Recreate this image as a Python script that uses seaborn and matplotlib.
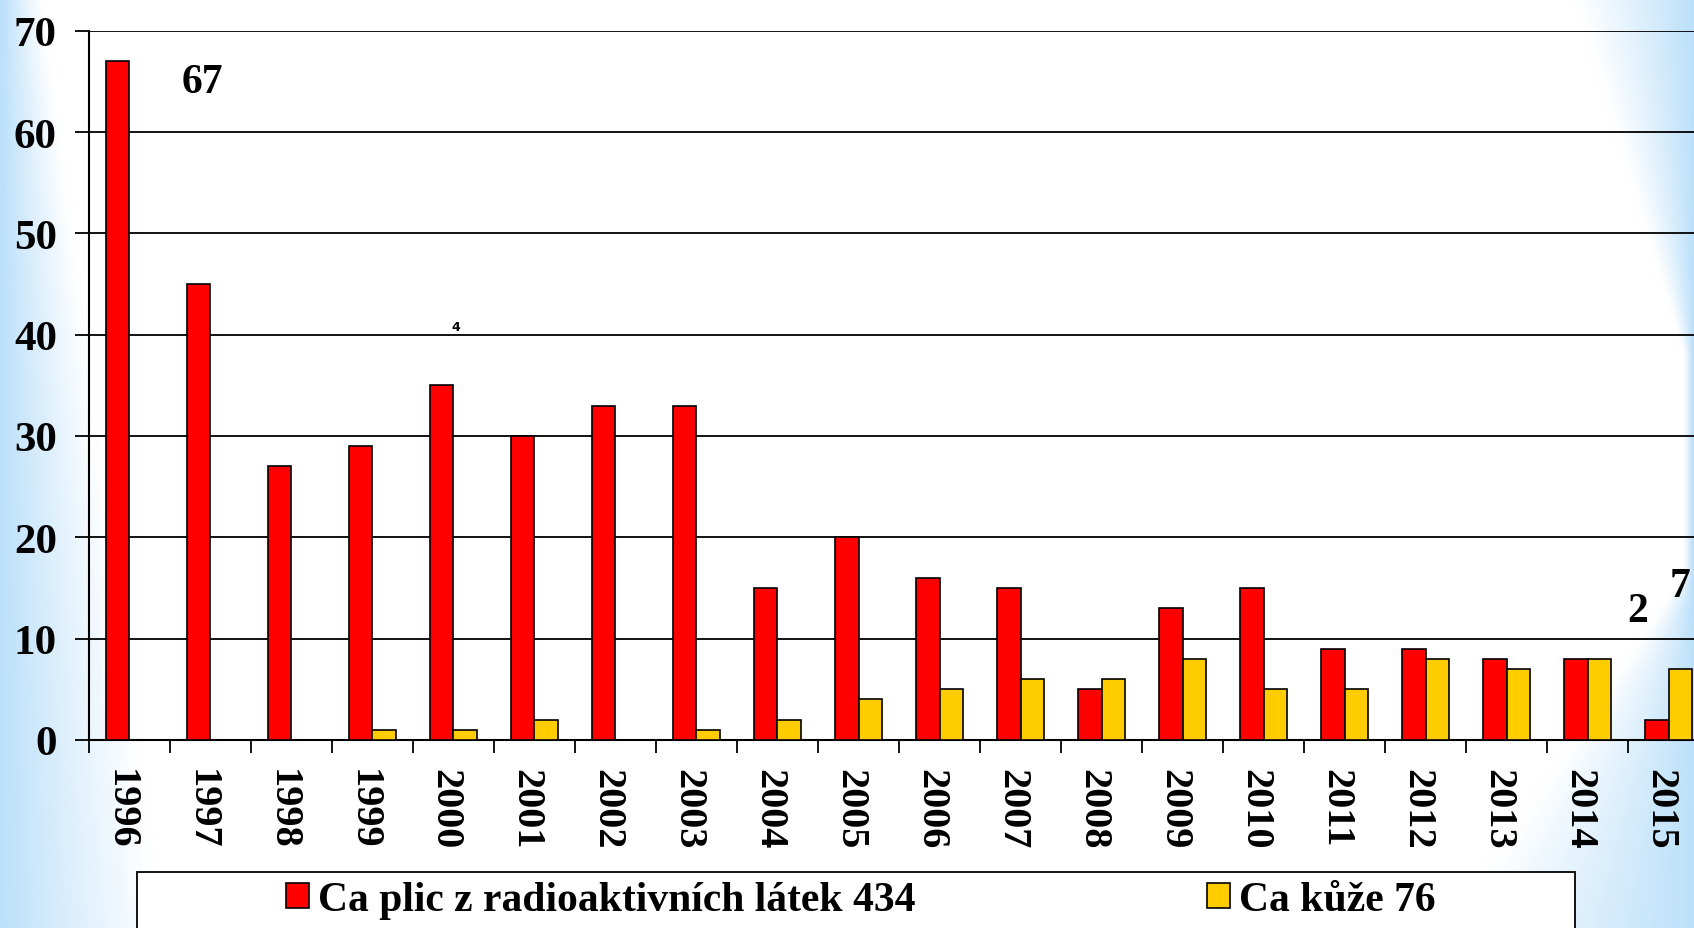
import numpy as np
import pandas as pd
import seaborn as sns
import matplotlib.pyplot as plt
import matplotlib.transforms as mtransforms
from matplotlib.patches import Patch, Rectangle

sns.set_style('white')
plt.rcParams['font.family'] = ['Liberation Serif', 'DejaVu Serif']
plt.rcParams['font.weight'] = 'bold'
plt.rcParams['text.color'] = 'black'
plt.rcParams['xtick.color'] = 'black'
plt.rcParams['ytick.color'] = 'black'

# data
years = [str(y) for y in range(1996, 2016)]
plice = [67, 45, 27, 29, 35, 30, 33, 33, 15, 20, 16, 15, 5, 13, 15, 9, 9, 8, 8, 2]
kuze = [0, 0, 0, 1, 1, 2, 0, 1, 2, 4, 5, 6, 6, 8, 5, 5, 8, 7, 8, 7]
lab_plice = 'Ca plic z radioaktivních látek 434'
lab_kuze = 'Ca kůže 76'

df = pd.DataFrame({'rok': years * 2,
                   'pocet': plice + kuze,
                   'dg': [lab_plice] * len(years) + [lab_kuze] * len(years)})
colors = {lab_plice: '#FF0000', lab_kuze: '#FFCC00'}

fig = plt.figure(figsize=(16.94, 9.29), dpi=100)

# light blue slide background on the edges
H, W = 186, 339
yy, xx = np.mgrid[0:H, 0:W]
yf = yy / (H - 1)
xpx = xx * 1694 / (W - 1)
rpx = 1694 - xpx
wl = 40 + 120 * yf
a_l = np.clip(1 - xpx / wl, 0, 1) ** 1.1
wr = 8 + 110 * np.clip(1 - yf / 0.38, 0, 1) + 240 * np.clip(yf - 0.62, 0, 1) / 0.38
a_r = np.clip(1 - rpx / wr, 0, 1) ** 1.1
a = np.clip(a_l + a_r, 0, 1)
c = np.array([0.74, 0.88, 0.98])
img = 1 - a[..., None] * (1 - c)
ax_bg = fig.add_axes([0, 0, 1, 1], zorder=-5)
ax_bg.imshow(img, extent=[0, 1, 0, 1], aspect='auto', interpolation='bilinear')
ax_bg.axis('off')

ax = fig.add_axes([0.0525, 0.2024, 0.9564, 0.7635])
ax.set_facecolor('none')
sns.barplot(data=df, x='rok', y='pocet', hue='dg', palette=colors, width=0.57, gap=0,
            saturation=1, edgecolor='black', linewidth=1.2, legend=False, ax=ax, zorder=3)

ax.set_xlim(-0.5, len(years) - 0.5)
ax.set_ylim(0, 70)
ax.set_yticks(range(0, 71, 10))
ax.yaxis.grid(True, color='black', linewidth=1.3, zorder=0)
ax.set_axisbelow(True)
ax.set_xlabel('')
ax.set_ylabel('')
for s in ['top', 'right']:
    ax.spines[s].set_visible(False)
for s in ['left', 'bottom']:
    ax.spines[s].set_color('black')
    ax.spines[s].set_linewidth(1.5)

ax.tick_params(axis='y', length=10, width=1.3, color='black', pad=13, labelsize=31, left=True)
ax.tick_params(axis='x', which='major', length=0, pad=20, labelsize=29, labelrotation=270)
ax.set_xticks(np.arange(-0.5, len(years), 1), minor=True)
ax.tick_params(axis='x', which='minor', length=9.5, width=1.3, color='black', bottom=True)
shift = mtransforms.ScaledTranslation(-9 / 100, 0, fig.dpi_scale_trans)
for t in ax.get_xticklabels():
    t.set_va('top')
    t.set_ha('center')
    t.set_transform(t.get_transform() + shift)

# stray data labels as in the original slide
ax.text(0.9, 64.9, '67', fontsize=30, ha='center', va='center')
ax.text(4.03, 40.8, '4', fontsize=9, ha='center', va='center', family='DejaVu Sans')
ax.text(18.62, 12.7, '2', fontsize=30, ha='center', va='center')
ax.text(19.14, 15.2, '7', fontsize=30, ha='center', va='center')

# legend box at the bottom
fig.add_artist(Rectangle((137 / 1694, -0.05), (1575 - 137) / 1694, 0.05 + 1 - 873 / 929,
                         transform=fig.transFigure, facecolor='white', edgecolor='black',
                         linewidth=1.3, zorder=1))
handles = [Patch(facecolor=colors[lab_plice], edgecolor='black', linewidth=1.2),
           Patch(facecolor=colors[lab_kuze], edgecolor='black', linewidth=1.2)]
leg = fig.legend(handles, [lab_plice, lab_kuze], ncol=2, frameon=False,
                 loc='center left', bbox_to_anchor=(286 / 1694, 1 - 901 / 929),
                 fontsize=30, handlelength=0.55, handleheight=0.55, handletextpad=0.22,
                 columnspacing=7.0, borderpad=0, borderaxespad=0)
leg.set_zorder(2)

fig.savefig('out.png', dpi=100)
